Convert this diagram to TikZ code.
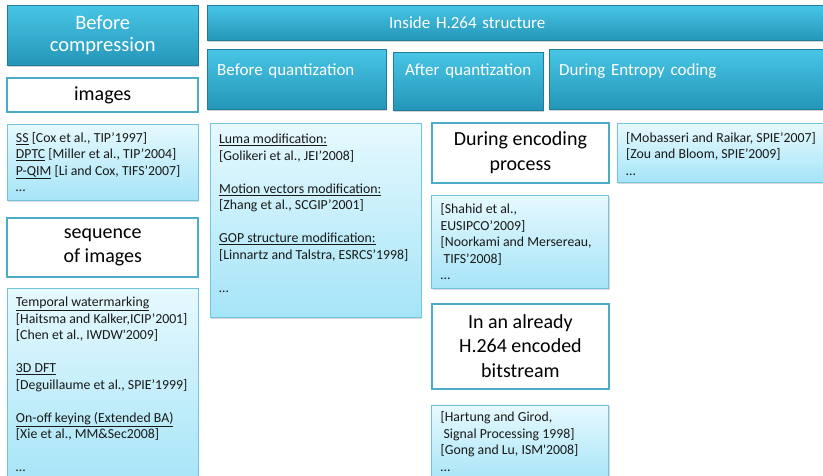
\documentclass[tikz,border=0pt]{standalone}
\usepackage{fontspec}
\setmainfont{Carlito}
\usetikzlibrary{positioning,shadows}

\definecolor{hdrtop}{RGB}{72,197,229}
\definecolor{hdrbot}{RGB}{36,150,184}
\definecolor{hdrline}{RGB}{30,125,155}
\definecolor{reftop}{RGB}{230,249,254}
\definecolor{refbot}{RGB}{165,228,247}
\definecolor{refline}{RGB}{112,196,220}
\definecolor{stageline}{RGB}{75,172,200}

\begin{document}
\begin{tikzpicture}[
    x=1pt, y=-1pt,
    header/.style={rectangle, draw=hdrline, top color=hdrtop, bottom color=hdrbot, text=white, inner sep=0pt,
        drop shadow={opacity=0.35, shadow xshift=1pt, shadow yshift=-2pt}},
    mainhdr/.style={header, align=center, font=\fontsize{20.5}{22}\selectfont},
    subhdr/.style={header, align=left, inner xsep=10pt, font=\fontsize{17}{20}\selectfont},
    stage/.style={rectangle, draw=stageline, line width=1.8pt, fill=white, align=center, inner sep=0pt, font=\fontsize{20}{24.5}\selectfont},
    refbox/.style={rectangle, draw=refline, line width=0.9pt, top color=reftop, bottom color=refbot, inner sep=0pt,
        drop shadow={opacity=0.3, shadow xshift=1pt, shadow yshift=-1.5pt}},
    reftext/.style={anchor=north west, align=left, inner sep=0pt, text=black!90, font=\fontsize{13.8}{16.5}\selectfont}
]
\useasboundingbox (0,0) rectangle (823,476);
% Before compression column
\node[mainhdr, minimum width=191pt, minimum height=60pt, anchor=north west] (before) at (7,5) {Before\\compression};
\node[stage, minimum width=191pt, minimum height=34pt, below=12pt of before] (images) {images};
\node[refbox, minimum width=191pt, minimum height=76pt, below=11pt of images] (imgrefs) {};
\node[reftext] (imgtext) at ([shift={(9,8)}]imgrefs.north west)
    {\underline{SS} [Cox et al., TIP’1997]\\
     \underline{DPTC} [Miller et al., TIP’2004]\\
     \underline{P-QIM} [Li and Cox, TIFS’2007]\\
     …};
\node[stage, minimum width=191pt, minimum height=59pt, below=16pt of imgrefs] (sequence) {sequence\\of images};
\node[refbox, minimum width=191pt, minimum height=200pt, below=10pt of sequence] (seqrefs) {};
\node[reftext] (seqtext) at ([shift={(9,9)}]seqrefs.north west)
    {\underline{Temporal watermarking}\\
     {[Haitsma and Kalker,ICIP’2001]}\\
     {[Chen et al., IWDW\textquotesingle 2009]}\\[16.5pt]
     \underline{3D DFT}\\
     {[Deguillaume et al., SPIE’1999]}\\[16.5pt]
     \underline{On-off keying (Extended BA)}\\
     {[Xie et al., MM\&Sec2008]}\\[16.5pt]
     …};
% Inside H.264 structure
\node[header, font=\fontsize{17}{20}\selectfont, minimum width=623pt, minimum height=35pt, inner xsep=182pt, text width=259pt, align=left, anchor=north west] (inside) at (207,5) {Inside H.264 structure};
\node[subhdr, minimum width=179pt, text width=159pt, text height=26pt, text depth=34pt, anchor=north west] (beforeq) at (207,49) {Before quantization};
\node[subhdr, minimum width=150pt, text width=130pt, align=center, text height=23pt, text depth=35pt, anchor=north west] (afterq) at (393,52) {After quantization};
\node[subhdr, minimum width=281pt, text width=261pt, text height=26pt, text depth=34pt, anchor=north west] (entropy) at (549,49) {During Entropy coding};
% Before quantization references
\node[refbox, minimum width=211pt, minimum height=194pt, anchor=north west] (beforeqrefs) at (210,123) {};
\node[reftext] (beforeqtext) at ([shift={(9,11)}]beforeqrefs.north west)
    {\underline{Luma modification:}\\
     {[Golikeri et al., JEI’2008]}\\[16.5pt]
     \underline{Motion vectors modification:}\\
     {[Zhang et al., SCGIP’2001]}\\[16.5pt]
     \underline{GOP structure modification:}\\
     {[Linnartz and Talstra, ESRCS’1998]}\\[16.5pt]
     …};
% After quantization column
\node[stage, minimum width=177pt, minimum height=60pt, anchor=north west] (encoding) at (431,122) {During encoding\\process};
\node[refbox, minimum width=177pt, minimum height=93pt, below=11pt of encoding] (encrefs) {};
\node[reftext] (enctext) at ([shift={(9,9)}]encrefs.north west)
    {[Shahid et al.,\\
     EUSIPCO’2009]\\
     {[Noorkami and Mersereau,}\\
     \hspace*{3pt}TIFS’2008]\\
     …};
\node[stage, minimum width=177pt, minimum height=85pt, below=14pt of encrefs] (bitstream) {In an already\\H.264 encoded\\bitstream};
\node[refbox, minimum width=177pt, minimum height=80pt, below=15pt of bitstream] (bitrefs) {};
\node[reftext] (bittext) at ([shift={(9,7)}]bitrefs.north west)
    {[Hartung and Girod,\\
     \hspace*{3pt}Signal Processing 1998]\\
     {[Gong and Lu, ISM\textquotesingle 2008]}\\
     …};
% During entropy coding references
\node[refbox, minimum width=213pt, minimum height=59pt, anchor=north west] (entrefs) at (617,123) {};
\node[reftext] (enttext) at ([shift={(9,9)}]entrefs.north west)
    {[Mobasseri and Raikar, SPIE’2007]\\
     {[Zou and Bloom, SPIE’2009]}\\
     …};
\end{tikzpicture}
\end{document}
